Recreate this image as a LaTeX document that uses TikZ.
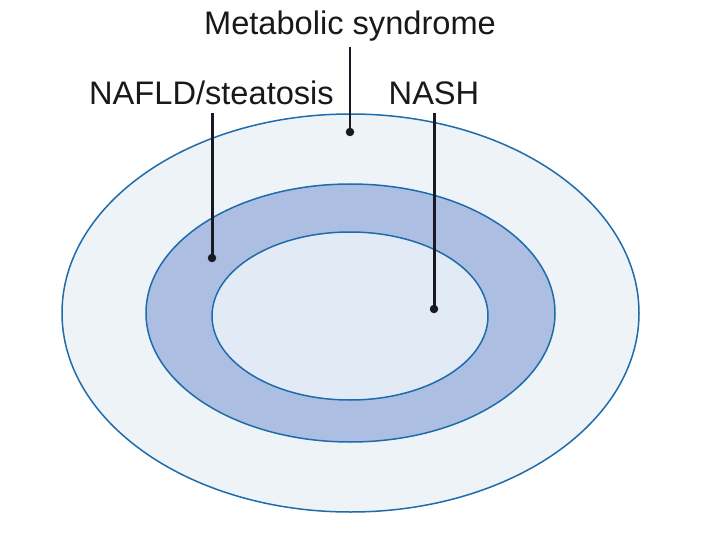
\documentclass[tikz,border=0pt]{standalone}
\usepackage{fontspec}
\setmainfont{Liberation Sans}
\definecolor{outerfill}{RGB}{238,243,248}
\definecolor{midfill}{RGB}{172,191,226}
\definecolor{innerfill}{RGB}{226,234,246}
\definecolor{rim}{RGB}{30,108,172}
\definecolor{pin}{RGB}{25,25,35}
\tikzset{
  ring/.style={draw=rim, line width=1.5pt},
  lbl/.style={font=\fontsize{32.6}{38}\selectfont, text=black!90, inner sep=0pt, anchor=base},
  thinpin/.style={draw=pin, line width=2pt},
  thickpin/.style={draw=pin, line width=3pt},
  dot/.style={circle, fill=pin, inner sep=0pt, minimum size=8.5pt}
}
\begin{document}
\begin{tikzpicture}[x=1pt,y=-1pt]
\useasboundingbox (0,0) rectangle (720,540);
\fill[white] (0,0) rectangle (720,540);
\draw[ring, fill=outerfill] (350.5,313) ellipse [x radius=288.5, y radius=199];
\draw[ring, fill=midfill] (350.5,313) ellipse [x radius=204.5, y radius=129];
\draw[ring, fill=innerfill] (350,316) ellipse [x radius=138, y radius=84];
\node[lbl] (ms) at (350,35) {Metabolic syndrome};
\node[lbl] (nafld) at (211.5,104.5) {NAFLD/steatosis};
\node[lbl] (nash) at (434,104.5) {NASH};
\node[dot] (msd) at (350,132) {};
\node[dot] (nafldd) at (212,258) {};
\node[dot] (nashd) at (434,309) {};
\coordinate (mstop) at (350,47);
\coordinate (nafldtop) at (212,113);
\coordinate (nashtop) at (434,113);
\draw[thinpin] (mstop) -- (msd.center);
\draw[thickpin] (nafldtop) -- (nafldd.center);
\draw[thickpin] (nashtop) -- (nashd.center);
\end{tikzpicture}
\end{document}
